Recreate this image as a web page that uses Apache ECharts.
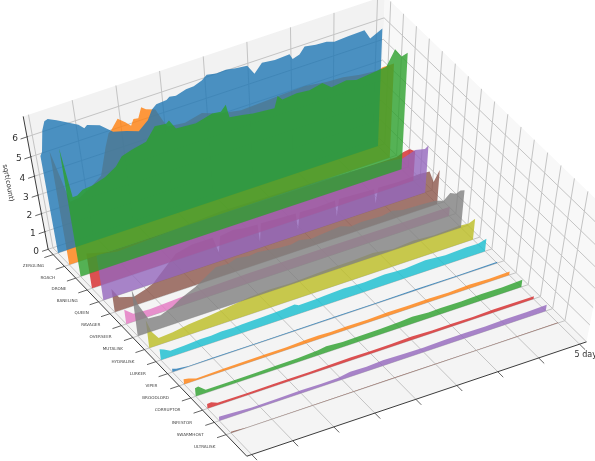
<!DOCTYPE html>
<html><head><meta charset="utf-8">
<script src="https://cdn.jsdelivr.net/npm/echarts@6/dist/echarts.min.js"></script>
<style>html,body{margin:0;padding:0;background:#fff}#c{width:595px;height:461px}</style></head>
<body><div id="c"></div>
<script>
const UNITS=["ZERGLING","ROACH","DRONE","BANELING","QUEEN","RAVAGER","OVERSEER","MUTALISK","HYDRALISK","LURKER","VIPER","BROODLORD","CORRUPTOR","INFESTOR","SWARMHOST","ULTRALISK"];
const COLORS=["#1f77b4","#ff7f0e","#2ca02c","#d62728","#9467bd","#8c564b","#e377c2","#7f7f7f","#bcbd22","#17becf"];
const Z_TICKS=[0,1,2,3,4,5,6];
const TIME_TICKS=[0,1,2,3,4,5,6,7,8];
const LAST_TIME_LABEL="5 days";
// each row: [time tick, sqrt(count)]
const ZERGLING=[[0,5.24],[.05,5.4],[.14,6.4],[.22,6.8],[.3,6.85],[.49,6.66],[.72,6.38],[.95,6.11],[1.07,5.86],[1.14,5.97],[1.42,5.76],[1.7,5.23],[2,5.06],[2.28,4.85],[2.51,5.23],[2.63,5.68],[2.74,5.86],[2.98,5.9],[3.05,6],[3.2,5.95],[3.44,6.1],[3.62,6.12],[3.81,6.26],[3.93,6.45],[4.15,6.36],[4.37,6.39],[4.6,6.3],[4.86,6.24],[5.02,5.75],[5.2,6.15],[5.5,6.08],[5.84,6.12],[5.91,5.85],[6.07,5.95],[6.19,6.24],[6.45,6.15],[6.7,6.13],[6.88,6],[7.2,6.05],[7.58,6.07],[7.72,5.59],[8,5.87]];
const ROACH=[[0,6.08],[.15,4.56],[.27,3.3],[.5,3.35],[.8,3.7],[1.06,4.08],[1.25,5.4],[1.36,6.02],[1.43,6.13],[1.6,6.55],[1.76,6.27],[1.88,6.02],[1.95,6.3],[2.06,6.26],[2.15,6.73],[2.25,6.56],[2.46,6.4],[2.6,5.76],[2.7,5.4],[3.1,5.3],[3.5,5.5],[3.9,5.2],[4.4,5],[4.9,5.05],[5.4,5.1],[5.9,5.15],[6.4,5],[6.8,4.95],[7.2,4.8],[7.6,4.72],[7.73,4.8],[8,4.8]];
const DRONE=[[0,6.85],[.12,4.29],[.23,4.31],[.37,4.5],[.6,4.55],[.91,4.75],[1.19,5.1],[1.35,5.5],[1.6,5.65],[1.93,5.8],[2.16,6.4],[2.42,6.34],[2.49,6.45],[2.63,5.96],[3.09,5.89],[3.47,6.1],[3.67,6.04],[3.79,6.3],[3.86,5.65],[4.15,5.55],[4.4,5.45],[4.9,5.35],[4.98,5.9],[5.09,5.65],[5.42,5.72],[5.72,5.66],[6.02,5.8],[6.23,5.45],[6.58,5.55],[6.81,5.4],[7.23,5.5],[7.51,5.55],[7.7,6.25],[7.86,5.8],[8,5.88]];
const BANELING=[[0,2],[.5,1.7],[1.5,1.7],[3,1.7],[5,1.65],[7,1.6],[7.55,1.6],[7.7,1.75],[7.85,1.8],[8,1.6]];
const QUEEN=[[0,2.6],[.5,2.4],[1.5,2.5],[3,2.7],[5,2.6],[7,2.4],[7.38,2.27],[7.55,2.4],[7.68,2.5],[7.92,2.38],[8,2.5]];
const RAVAGER=[[0,1.35],[.15,.75],[.5,.5],[.8,.7],[1,.9],[1.3,1.5],[1.6,2.1],[2,2.3],[2.5,2.3],[2.62,1.4],[2.68,2.25],[3,2.35],[3.25,2.25],[3.58,2.2],[3.62,1.2],[3.66,2.2],[4.1,2.15],[4.5,2.1],[4.55,1.2],[4.6,2.1],[5,2.05],[5.45,2.1],[5.5,1.2],[5.55,2.1],[6,2.05],[6.4,2],[6.45,1.2],[6.5,2],[7,1.95],[7.5,2],[7.75,1.95],[7.87,1.3],[8,1.85]];
const OVERSEER=[[0,.85],[.2,.45],[.6,.4],[1.5,.5],[3,.55],[5,.55],[7,.5],[8,.5]];
const MUTALISK=[[0,2.7],[.1,1.8],[.3,.8],[.6,.75],[.9,1],[1.1,1.3],[1.5,1.7],[2,2.4],[2.3,2.35],[2.5,2.5],[2.8,2.4],[3,2.45],[3.5,2.3],[3.8,2.25],[4,2.35],[4.3,2.2],[4.5,2.25],[5,2.35],[5.25,2.15],[5.5,2.2],[6,2.15],[6.25,2.25],[6.5,2.1],[7,2.05],[7.3,2],[7.5,1.85],[7.65,2.15],[7.8,2],[7.9,2.1],[8,2.05]];
const HYDRALISK=[[0,1.65],[.1,.9],[.25,.4],[.6,.45],[1,.6],[1.5,.7],[2,.85],[2.5,1],[3,1.05],[3.5,1],[4,1.05],[4.5,1.1],[5,1.1],[5.5,1.15],[6,1],[6.5,1.08],[7,1],[7.6,1.05],[7.85,1],[8,1.15]];
const LURKER=[[0,.65],[.1,.55],[.25,.35],[.6,.38],[1,.45],[1.25,.44],[1.5,.48],[1.8,.46],[2,.5],[2.5,.52],[3,.55],[3.3,.62],[3.4,.5],[3.8,.52],[4,.55],[4.5,.6],[4.8,.56],[5,.55],[5.5,.62],[5.75,.57],[6,.55],[6.5,.65],[6.8,.58],[7,.55],[7.5,.6],[7.8,.58],[8,.7]];
const VIPER=[[0,.2],[.1,.12],[.4,.04],[1,.05],[2,.05],[3,.05],[4,.06],[5,.05],[6,.07],[7,.05],[8,.07]];
const BROODLORD=[[0,.3],[.12,.25],[.3,.1],[1,.14],[2,.16],[2.5,.15],[3,.2],[3.3,.22],[3.6,.18],[4,.2],[4.5,.18],[5,.22],[5.5,.19],[6,.2],[6.5,.17],[7,.23],[7.5,.18],[8,.2]];
const CORRUPTOR=[[0,.5],[.08,.55],[.25,.2],[1,.2],[1.5,.2],[2,.22],[2.5,.23],[3,.3],[3.2,.38],[3.6,.3],[4,.32],[4.5,.33],[5,.36],[5.3,.42],[5.7,.34],[6,.36],[6.5,.35],[7,.38],[7.5,.36],[8,.42]];
const INFESTOR=[[0,.28],[.1,.3],[.25,.15],[1,.12],[1.6,.14],[2,.15],[2.5,.13],[3,.16],[3.5,.18],[4,.16],[4.5,.17],[5,.2],[5.5,.16],[6,.17],[6.5,.15],[7,.18],[8,.16]];
const SWARMHOST=[[0,.25],[.25,.22],[.8,.14],[1.4,.16],[2,.18],[2.5,.16],[2.9,.17],[3.2,.3],[3.6,.27],[4,.33],[4.5,.29],[5,.28],[5.5,.31],[6,.32],[6.5,.3],[7,.34],[7.5,.32],[8,.36]];
const ULTRALISK=[[0,.08],[.1,.07],[.4,.02],[2,.03],[4,.04],[6,.03],[8,.04]];
const ROWS=[ZERGLING,ROACH,DRONE,BANELING,QUEEN,RAVAGER,OVERSEER,MUTALISK,HYDRALISK,LURKER,VIPER,BROODLORD,CORRUPTOR,INFESTOR,SWARMHOST,ULTRALISK];
// painter's order, as the figure stacks them
const ORDER=[6,8,5,7,3,4,1,0,2,9,10,11,12,13,14,15];

// ---- view of the 3-D box: image of the floor and of the vertical direction
const TMIN=-.12,TMAX=8.17,RMIN=-.45,RMAX=16.75,ZTOP=7;
const C00=[58,253],C80=[378,146],C815=[558,323],C015=[231,433];
const VP=[320,1700],KZ=-.0120;
function homography(p0,p1,p2,p3){ // unit square (0,0),(1,0),(1,1),(0,1)
  const dx1=p1[0]-p2[0],dx2=p3[0]-p2[0],sx=p0[0]-p1[0]+p2[0]-p3[0];
  const dy1=p1[1]-p2[1],dy2=p3[1]-p2[1],sy=p0[1]-p1[1]+p2[1]-p3[1];
  const d=dx1*dy2-dx2*dy1,g=(sx*dy2-dx2*sy)/d,h=(dx1*sy-sx*dy1)/d;
  return [p1[0]-p0[0]+g*p1[0],p3[0]-p0[0]+h*p3[0],p0[0],p1[1]-p0[1]+g*p1[1],p3[1]-p0[1]+h*p3[1],p0[1],g,h,1];
}
const H=homography(C00,C80,C815,C015);
function project(t,r,z){
  const u=t/8,v=r/15;
  const a=KZ*z;
  const X=H[0]*u+H[1]*v+H[2]+a*VP[0],Y=H[3]*u+H[4]*v+H[5]+a*VP[1],W=H[6]*u+H[7]*v+H[8]+a;
  return [X/W,Y/W];
}

const PANE_LINE="#c4c4c4",SPINE="#3c3c3c";
function boxItem(params,api){
  const c=p=>api.coord(p);
  const P=(t,r,z)=>c(project(t,r,z));
  const kids=[];
  const poly=(pts,fill)=>kids.push({type:'polygon',shape:{points:pts},style:{fill:fill},silent:true});
  const line=(a,b,col,w)=>kids.push({type:'line',shape:{x1:a[0],y1:a[1],x2:b[0],y2:b[1]},style:{stroke:col,lineWidth:w},silent:true});
  poly([P(TMIN,RMIN,0),P(TMAX,RMIN,0),P(TMAX,RMIN,ZTOP),P(TMIN,RMIN,ZTOP)],"#f2f2f2");
  poly([P(TMAX,RMIN,0),P(TMAX,RMAX,0),P(TMAX,RMAX,ZTOP),P(TMAX,RMIN,ZTOP)],"#f8f8f8");
  poly([P(TMIN,RMIN,0),P(TMAX,RMIN,0),P(TMAX,RMAX,0),P(TMIN,RMAX,0)],"#f4f4f4");
  TIME_TICKS.forEach(t=>{
    line(P(t,RMIN,ZTOP),P(t,RMIN,0),PANE_LINE,1);
    line(P(t,RMIN,0),P(t,RMAX,0),PANE_LINE,1);
    line(P(t,RMAX,0),P(t,RMAX+.45,0),SPINE,.8);
  });
  UNITS.forEach((u,r)=>{
    line(P(TMIN,r,0),P(TMAX,r,0),PANE_LINE,1);
    line(P(TMAX,r,0),P(TMAX,r,ZTOP),PANE_LINE,1);
    line(P(TMIN-.22,r,0),P(TMIN,r,0),SPINE,.8);
  });
  Z_TICKS.forEach(z=>{
    line(P(TMIN,RMIN,z),P(TMAX,RMIN,z),PANE_LINE,1);
    line(P(TMAX,RMIN,z),P(TMAX,RMAX,z),PANE_LINE,1);
    line(P(TMIN-.15,RMIN,z),P(TMIN+.02,RMIN,z),SPINE,.8);
  });
  line(P(TMIN,RMIN,0),P(TMIN,RMIN,ZTOP),SPINE,1);
  line(P(TMIN,RMIN,0),P(TMIN,RMAX,0),SPINE,1);
  line(P(TMIN,RMAX,0),P(TMAX,RMAX,0),SPINE,1);
  return {type:'group',children:kids};
}
function rowItem(params,api){
  const r=api.value(0),row=ROWS[r];
  const pts=[api.coord(project(row[0][0],r,0))];
  row.forEach(d=>pts.push(api.coord(project(d[0],r,d[1]))));
  pts.push(api.coord(project(row[row.length-1][0],r,0)));
  return {type:'polygon',shape:{points:pts},style:{fill:COLORS[r%10],opacity:.8}};
}
function textItem(params,api){
  const c=p=>api.coord(p);
  const kids=[];
  UNITS.forEach((u,r)=>{
    const p=c(project(TMIN,r,0));
    kids.push({type:'text',x:p[0]-9.2-r*.1,y:p[1]+11+r*.117,style:{text:u,font:'4.1px "DejaVu Sans"',fill:'#404040',align:'right',verticalAlign:'middle'},silent:true});
  });
  Z_TICKS.forEach(z=>{
    const p=c(project(TMIN,RMIN,z));
    kids.push({type:'text',x:p[0]-12,y:p[1]+2,style:{text:String(z),font:'9px "DejaVu Sans"',fill:'#303030',align:'center',verticalAlign:'middle'},silent:true});
  });
  const l=c(project(TIME_TICKS[TIME_TICKS.length-1],RMAX,0));
  kids.push({type:'text',x:l[0]-5,y:l[1]+11,style:{text:LAST_TIME_LABEL,font:'8px "DejaVu Sans"',fill:'#303030',align:'left',verticalAlign:'middle'},silent:true});
  const a=c([8,183]);
  kids.push({type:'text',x:a[0],y:a[1],rotation:-1.39,style:{text:'sqrt(count)',font:'6.8px "DejaVu Sans"',fill:'#303030',align:'center',verticalAlign:'middle'},silent:true});
  return {type:'group',children:kids};
}
const chart=echarts.init(document.getElementById('c'),null,{renderer:'canvas'});
const hiddenX={type:'value',min:0,max:595,show:false};
const hiddenY={type:'value',min:0,max:461,inverse:true,show:false};
chart.setOption({
  animation:false,
  backgroundColor:'#fff',
  grid:{left:0,right:0,top:0,bottom:0},
  xAxis:hiddenX,yAxis:hiddenY,
  series:[
    {type:'custom',name:'box',coordinateSystem:'cartesian2d',clip:false,silent:true,data:[[0]],renderItem:boxItem,z:1},
    ...ORDER.map((r,i)=>({type:'custom',name:UNITS[r],coordinateSystem:'cartesian2d',clip:true,silent:true,data:[[r]],encode:{x:0},renderItem:rowItem,z:2+i})),
    {type:'custom',name:'labels',coordinateSystem:'cartesian2d',clip:false,silent:true,data:[[0]],renderItem:textItem,z:40}
  ]
});
</script></body></html>
